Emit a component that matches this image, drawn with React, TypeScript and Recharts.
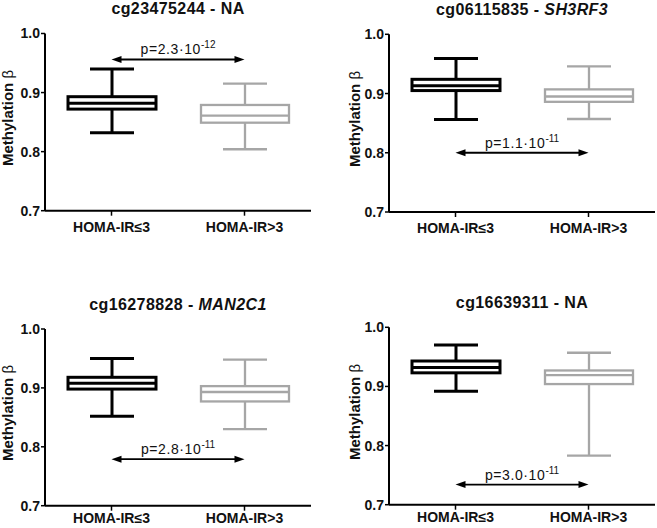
import React from 'react'
import { BarChart, Bar, XAxis, YAxis, ReferenceLine } from 'recharts'

// categories and labels
const GROUPS = ['HOMA-IR≤3', 'HOMA-IR>3']
const PROBES = ['cg23475244', 'cg06115835', 'cg16278828', 'cg16639311']
const GENES = ['NA', 'SH3RF3', 'MAN2C1', 'NA']
const Y_TICKS = [0.7, 0.8, 0.9, 1.0]

// box plot values, one [low, high] pair per panel (HOMA-IR<=3, HOMA-IR>3)
const WHISKER_MIN = [[0.832, 0.804], [0.856, 0.857], [0.852, 0.830], [0.892, 0.783]]
const Q1 = [[0.872, 0.849], [0.905, 0.886], [0.898, 0.877], [0.923, 0.904]]
const MEDIAN = [[0.882, 0.861], [0.913, 0.895], [0.908, 0.893], [0.932, 0.919]]
const Q3 = [[0.893, 0.879], [0.924, 0.907], [0.918, 0.903], [0.943, 0.927]]
const WHISKER_MAX = [[0.940, 0.915], [0.959, 0.946], [0.950, 0.948], [0.970, 0.957]]

// p-value annotations
const P_MANTISSA = ['2.3', '1.1', '2.8', '3.0']
const P_EXPONENT = ['-12', '-11', '-11', '-11']
const ARROW_Y = [0.956, 0.800, 0.779, 0.734]

const FONT = '"Liberation Sans", Arial, Helvetica, sans-serif'
const BOX_COLORS = ['#000000', '#a6a6a6']
const BOX_STROKE = [3, 2.3]

const PANELS = [
  { left: 0, top: 0, width: 328, margin: { top: 33.5, right: 17, left: 5, bottom: 33.3 }, tickMargin: 6, labelGap: 38 },
  { left: 344, top: 0, width: 313, margin: { top: 34.3, right: 2, left: 5, bottom: 32 }, tickMargin: 6, labelGap: 35 },
  { left: 0, top: 264, width: 328, margin: { top: 65, right: 17, left: 5, bottom: 2.3 }, tickMargin: 2, labelGap: 38 },
  { left: 344, top: 264, width: 313, margin: { top: 63.3, right: 2, left: 5, bottom: 3.3 }, tickMargin: 2, labelGap: 35 },
]
const CHART_H = 264
const AXIS_W = 40
const X_AXIS_H = 20

const BoxShape = (props: any) => {
  const { x, y, width, height, payload, index } = props
  const color = BOX_COLORS[index]
  const sw = BOX_STROKE[index]
  // y is the pixel of the whisker max, y + height the pixel of the whisker min
  const y0 = y
  const y1 = y + height
  const px = (v: number) => y0 + ((y1 - y0) * (payload.max - v)) / (payload.max - payload.min)
  const cx = x + width / 2
  const cap = width / 4
  return (
    <g stroke={color} strokeWidth={sw} fill="none">
      <line x1={cx} x2={cx} y1={px(payload.max)} y2={px(payload.q3)} />
      <line x1={cx} x2={cx} y1={px(payload.q1)} y2={px(payload.min)} />
      <line x1={cx - cap} x2={cx + cap} y1={px(payload.max)} y2={px(payload.max)} />
      <line x1={cx - cap} x2={cx + cap} y1={px(payload.min)} y2={px(payload.min)} />
      <rect x={x} y={px(payload.q3)} width={width} height={px(payload.q1) - px(payload.q3)} fill="#fff" />
      <line x1={x} x2={x + width} y1={px(payload.median)} y2={px(payload.median)} />
    </g>
  )
}

const makeArrow = (i: number) => (props: any) => {
  const { x1, y1, x2 } = props
  const head = 10
  const half = 3.5
  const mid = (x1 + x2) / 2
  return (
    <g>
      <line x1={x1 + head - 1} x2={x2 - head + 1} y1={y1} y2={y1} stroke="#000" strokeWidth={1.8} />
      <polygon points={`${x1},${y1} ${x1 + head},${y1 - half} ${x1 + head},${y1 + half}`} fill="#000" />
      <polygon points={`${x2},${y1} ${x2 - head},${y1 - half} ${x2 - head},${y1 + half}`} fill="#000" />
      <text x={mid} y={y1 - 5} textAnchor="middle" fontFamily={FONT} fontSize={14} letterSpacing={0.6} fill="#111">
        {`p=${P_MANTISSA[i]}·10`}
        <tspan dy={-6} fontSize={10} letterSpacing={0}>{P_EXPONENT[i]}</tspan>
      </text>
    </g>
  )
}

function Panel({ i }: { i: number }) {
  const p = PANELS[i]
  const data = GROUPS.map((g, j) => ({
    group: g,
    min: WHISKER_MIN[i][j],
    q1: Q1[i][j],
    median: MEDIAN[i][j],
    q3: Q3[i][j],
    max: WHISKER_MAX[i][j],
  }))
  const axisX = p.margin.left + AXIS_W
  const plotW = p.width - axisX - p.margin.right
  const plotH = CHART_H - p.margin.top - p.margin.bottom - X_AXIS_H
  return (
    <div style={{ position: 'absolute', left: p.left, top: p.top, width: p.width, height: CHART_H }}>
      <div
        style={{
          position: 'absolute',
          left: axisX,
          width: plotW,
          top: p.margin.top - 32.5,
          textAlign: 'center',
          fontFamily: FONT,
          fontWeight: 700,
          fontSize: 16,
          lineHeight: '16px',
          letterSpacing: 0.4,
          color: '#111',
          whiteSpace: 'nowrap',
        }}
      >
        {PROBES[i]} - <span style={{ fontStyle: GENES[i] === 'NA' ? 'normal' : 'italic' }}>{GENES[i]}</span>
      </div>
      <div
        style={{
          position: 'absolute',
          left: axisX - p.labelGap,
          top: p.margin.top + plotH / 2 - 4,
          transform: 'translate(-50%, -50%) rotate(-90deg)',
          fontFamily: FONT,
          fontWeight: 700,
          fontSize: 15,
          lineHeight: '15px',
          color: '#111',
          whiteSpace: 'nowrap',
        }}
      >
        Methylation <span style={{ fontWeight: 400 }}>β</span>
      </div>
      <BarChart width={p.width} height={CHART_H} data={data} margin={p.margin} barSize={88}>
        <XAxis
          dataKey="group"
          height={X_AXIS_H}
          interval={0}
          axisLine={{ stroke: '#000', strokeWidth: 2 }}
          tickLine={{ stroke: '#000', strokeWidth: 1.5 }}
          tickSize={5}
          tickMargin={p.tickMargin}
          tick={{ fill: '#111', fontSize: 14, fontWeight: 700, fontFamily: FONT }}
        />
        <YAxis
          type="number"
          domain={[0.7, 1.0]}
          ticks={Y_TICKS}
          allowDataOverflow
          width={AXIS_W}
          tickFormatter={(v: number) => v.toFixed(1)}
          axisLine={{ stroke: '#000', strokeWidth: 2 }}
          tickLine={{ stroke: '#000', strokeWidth: 1.5 }}
          tickSize={4}
          tickMargin={1}
          tick={{ fill: '#111', fontSize: 14, fontWeight: 700, fontFamily: FONT }}
        />
        <Bar
          dataKey={(d: any) => [d.min, d.max]}
          shape={BoxShape}
          isAnimationActive={false}
        />
        <ReferenceLine
          segment={[
            { x: GROUPS[0], y: ARROW_Y[i] },
            { x: GROUPS[1], y: ARROW_Y[i] },
          ]}
          ifOverflow="visible"
          shape={makeArrow(i)}
        />
      </BarChart>
    </div>
  )
}

export default function App() {
  return (
    <div
      style={{
        position: 'absolute',
        left: 0,
        top: 0,
        width: 657,
        height: 528,
        overflow: 'hidden',
        background: '#fff',
      }}
    >
      {PANELS.map((_, i) => (
        <Panel key={i} i={i} />
      ))}
    </div>
  )
}
